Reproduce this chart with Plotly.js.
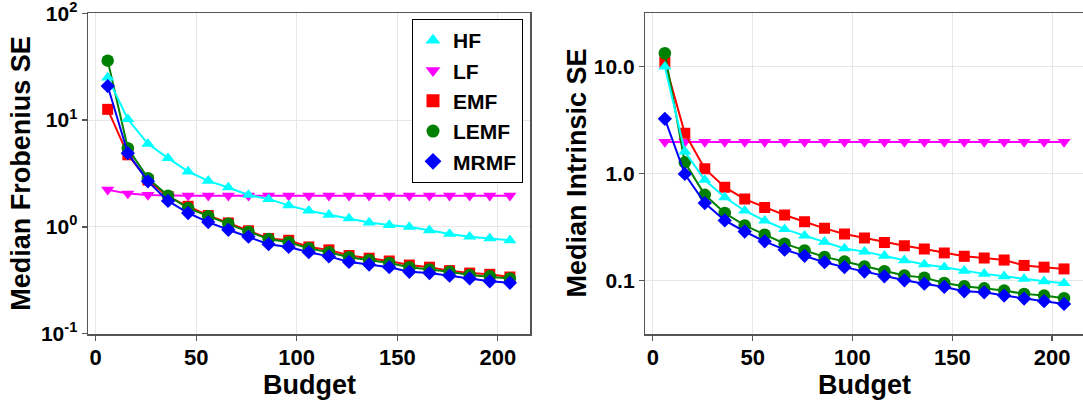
<!DOCTYPE html>
<html>
<head>
<meta charset="utf-8">
<script src="https://cdn.plot.ly/plotly-3.0.1.min.js"></script>
<style>
html, body { margin: 0; padding: 0; overflow: hidden; background: #fff; }
#chart { width: 1090px; height: 405px; }
</style>
</head>
<body>
<div id="chart"></div>
<script>
// ---- data ----
const budget = [6, 16, 26, 36, 46, 56, 66, 76, 86, 96, 106, 116, 126, 136, 146, 156, 166, 176, 186, 196, 206];
const seriesNames = ["HF", "LF", "EMF", "LEMF", "MRMF"];

// Left panel: Median Frobenius SE
const frobHF   = [25, 10.2, 6.0, 4.4, 3.3, 2.7, 2.34, 1.99, 1.82, 1.59, 1.42, 1.30, 1.20, 1.10, 1.04, 1.00, 0.93, 0.86, 0.81, 0.78, 0.75];
const frobLF   = [2.23, 2.05, 1.99, 1.96, 1.96, 1.96, 1.96, 1.96, 1.96, 1.96, 1.96, 1.96, 1.96, 1.96, 1.96, 1.96, 1.96, 1.96, 1.96, 1.96, 1.96];
const frobEMF  = [12.6, 4.73, 2.75, 1.92, 1.56, 1.28, 1.09, 0.92, 0.78, 0.75, 0.65, 0.61, 0.54, 0.51, 0.48, 0.44, 0.42, 0.39, 0.37, 0.36, 0.34];
const frobLEMF = [36, 5.45, 2.86, 1.96, 1.50, 1.26, 1.07, 0.90, 0.77, 0.72, 0.63, 0.58, 0.52, 0.49, 0.46, 0.42, 0.40, 0.38, 0.355, 0.345, 0.33];
const frobMRMF = [20.8, 4.9, 2.67, 1.75, 1.35, 1.11, 0.94, 0.81, 0.69, 0.65, 0.58, 0.53, 0.47, 0.445, 0.42, 0.38, 0.37, 0.35, 0.33, 0.31, 0.30];

// Right panel: Median Intrinsic SE
const intrHF   = [9.9, 1.6, 0.87, 0.60, 0.45, 0.363, 0.303, 0.263, 0.231, 0.20, 0.187, 0.171, 0.155, 0.142, 0.134, 0.124, 0.116, 0.110, 0.104, 0.099, 0.095];
const intrLF   = [1.97, 1.97, 1.97, 1.97, 1.97, 1.97, 1.97, 1.97, 1.97, 1.97, 1.97, 1.97, 1.97, 1.97, 1.97, 1.97, 1.97, 1.97, 1.97, 1.97, 1.97];
const intrEMF  = [10.9, 2.37, 1.11, 0.746, 0.577, 0.483, 0.41, 0.355, 0.308, 0.273, 0.25, 0.228, 0.212, 0.198, 0.182, 0.169, 0.163, 0.156, 0.139, 0.134, 0.129];
const intrLEMF = [13.2, 1.27, 0.633, 0.428, 0.328, 0.269, 0.222, 0.192, 0.167, 0.151, 0.136, 0.123, 0.112, 0.107, 0.0955, 0.089, 0.085, 0.081, 0.0755, 0.0728, 0.0687];
const intrMRMF = [3.23, 0.99, 0.53, 0.365, 0.288, 0.233, 0.195, 0.171, 0.149, 0.134, 0.122, 0.110, 0.101, 0.094, 0.0877, 0.0798, 0.078, 0.0728, 0.0682, 0.0645, 0.0608];

// tick labels
const xTickVals = [0, 50, 100, 150, 200];
const xTickText = ["0", "50", "100", "150", "200"];
const leftTickVals = [0.1, 1, 10, 100];
const leftTickText = ["10<sup>-1</sup>", "10<sup>0</sup>", "10<sup>1</sup>", "10<sup>2</sup>"];
const rightTickVals = [0.1, 1, 10];
const rightTickText = ["0.1", "1.0", "10.0"];

// ---- styles ----
const styles = {
  HF:   {color: "#00FFFF", symbol: "triangle-up",   size: 11.5},
  LF:   {color: "#FF00FF", symbol: "triangle-down", size: 11.5},
  EMF:  {color: "#FF0000", symbol: "square",        size: 11},
  LEMF: {color: "#008000", symbol: "circle",        size: 12.5},
  MRMF: {color: "#0000FF", symbol: "diamond",       size: 11}
};
const drawOrder = ["LF", "EMF", "LEMF", "HF", "MRMF"];
const leftData = {HF: frobHF, LF: frobLF, EMF: frobEMF, LEMF: frobLEMF, MRMF: frobMRMF};
const rightData = {HF: intrHF, LF: intrLF, EMF: intrEMF, LEMF: intrLEMF, MRMF: intrMRMF};

const traces = [];
function addPanel(dataMap, xa, ya) {
  drawOrder.forEach(name => {
    const s = styles[name];
    traces.push({
      x: budget, y: dataMap[name], name: name,
      type: "scatter", mode: "lines+markers",
      xaxis: xa, yaxis: ya,
      line: {color: s.color, width: 2},
      marker: {color: s.color, symbol: s.symbol, size: s.size},
      showlegend: false,
      legendgroup: name,
      hoverinfo: "x+y+name"
    });
  });
}
addPanel(leftData, "x", "y");
addPanel(rightData, "x2", "y2");
// legend entries: markers only, as in the reference legend
seriesNames.forEach((name, i) => {
  const s = styles[name];
  traces.push({
    x: [null], y: [null], name: name,
    type: "scatter", mode: "markers",
    xaxis: "x", yaxis: "y",
    marker: {color: s.color, symbol: s.symbol, size: 13},
    showlegend: true, legendgroup: name, legendrank: i + 1
  });
});

const W = 1090, H = 405;
const mL = 88, mR = 6, mT = 13, mB = 70.7;
const plotW = W - mL - mR;
const plotH = H - mT - mB;

const fam = "Liberation Sans, Arial, sans-serif";
const axisCommon = {
  showline: true, mirror: true, linecolor: "#555", linewidth: 1.5,
  ticks: "outside", ticklen: 5, tickwidth: 1.2, tickcolor: "#555",
  showgrid: true, gridcolor: "#e6e6e6", gridwidth: 1,
  zeroline: false, ticklabeloverflow: "allow",
  tickfont: {family: fam, size: 22, color: "#000", weight: "bold"}
};
const yTickFont = {family: fam, size: 21, color: "#000", weight: "bold"};
const titleFont = {family: fam, size: 27, color: "#000", weight: "bold"};
const xCommon = Object.assign({}, axisCommon, {
  range: [-3.8, 216], tickmode: "array", tickvals: xTickVals, ticktext: xTickText,
  ticklabelstandoff: -2
});

const leftDomain = [0, (530 - mL) / plotW];
const rightDomain = [(645.3 - mL) / plotW, 1];
const xTitleY = -(385 - (H - mB)) / plotH;

const layout = {
  width: W, height: H,
  margin: {l: mL, r: mR, t: mT, b: mB, pad: 0},
  paper_bgcolor: "#fff", plot_bgcolor: "#fff",
  font: {family: fam, color: "#000", weight: "bold"},
  showlegend: true,
  legend: {
    x: (523 - mL) / plotW, xanchor: "right",
    y: 1 - (19 - mT) / plotH, yanchor: "top",
    bgcolor: "#fff", bordercolor: "#000", borderwidth: 1,
    font: {family: fam, size: 21, color: "#000", weight: "bold"},
    traceorder: "normal", itemwidth: 30, tracegroupgap: 0
  },
  xaxis: Object.assign({}, xCommon, {domain: leftDomain, anchor: "y"}),
  xaxis2: Object.assign({}, xCommon, {domain: rightDomain, anchor: "y2"}),
  yaxis: Object.assign({}, axisCommon, {
    type: "log", range: [-1.002, 2.002], anchor: "x",
    tickmode: "array", tickvals: leftTickVals, ticktext: leftTickText, tickfont: yTickFont,
    title: {text: "Median Frobenius SE", font: titleFont, standoff: 2}
  }),
  yaxis2: Object.assign({}, axisCommon, {
    type: "log", range: [-1.496, 1.496], anchor: "x2",
    tickmode: "array", tickvals: rightTickVals, ticktext: rightTickText, tickfont: yTickFont
  }),
  annotations: [
    {
      text: "Budget", xref: "paper", yref: "paper",
      x: (leftDomain[0] + leftDomain[1]) / 2, y: xTitleY,
      xanchor: "center", yanchor: "middle", showarrow: false, font: titleFont, borderpad: 0
    },
    {
      text: "Budget", xref: "paper", yref: "paper",
      x: (rightDomain[0] + (1084 - mL) / plotW) / 2, y: xTitleY,
      xanchor: "center", yanchor: "middle", showarrow: false, font: titleFont, borderpad: 0
    },
    {
      text: "Median Intrinsic SE", textangle: -90,
      xref: "paper", yref: "paper",
      x: (576 - mL) / plotW, y: 0.5, xanchor: "center", yanchor: "middle",
      showarrow: false, font: titleFont, borderpad: 0
    }
  ]
};

Plotly.newPlot("chart", traces, layout, {displayModeBar: false, staticPlot: true});
</script>
</body>
</html>
